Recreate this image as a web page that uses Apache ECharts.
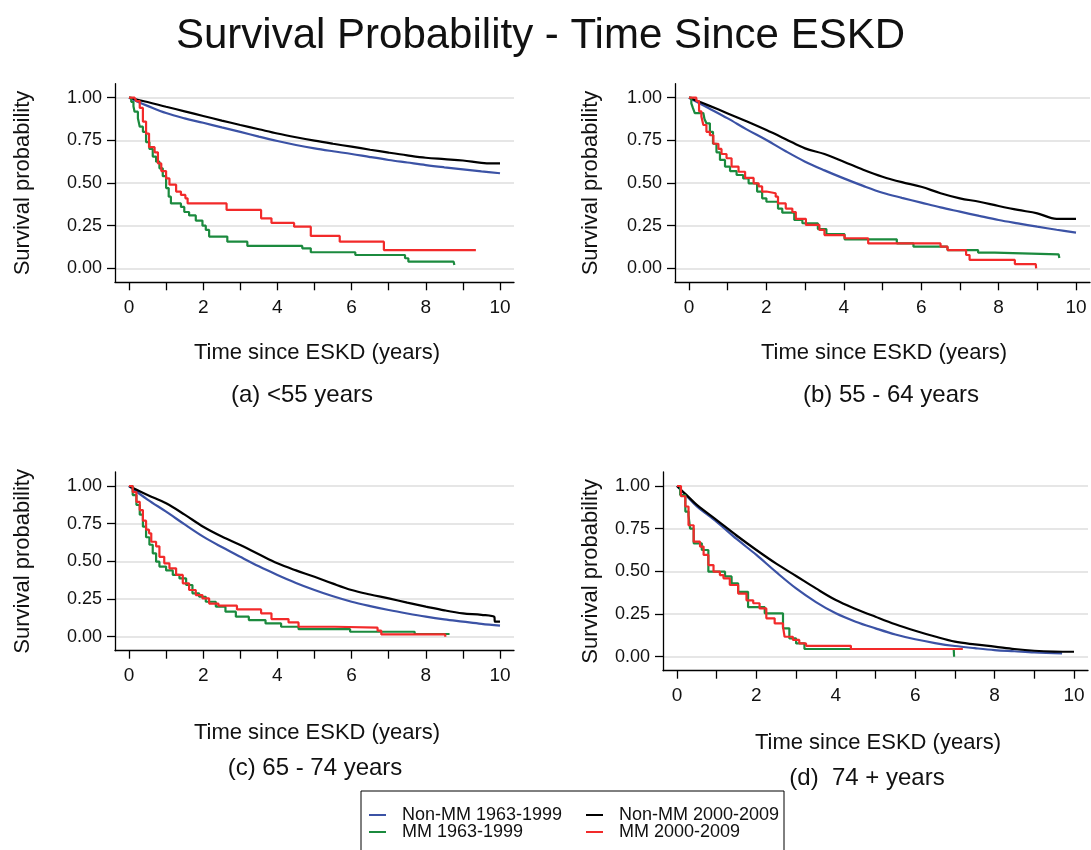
<!DOCTYPE html>
<html>
<head>
<meta charset="utf-8">
<script src="https://cdn.jsdelivr.net/npm/echarts@6/dist/echarts.min.js"></script>
<style>html,body{margin:0;padding:0;background:#fff;}#chart{width:1091px;height:850px;}</style>
</head>
<body>
<div id="chart"></div>
<script>
// ---------------- DATA ----------------
const chartTitle = 'Survival Probability - Time Since ESKD';
const seriesNames = ['Non-MM 1963-1999', 'Non-MM 2000-2009', 'MM 1963-1999', 'MM 2000-2009'];
const panelLabels = ['(a) <55 years', '(b) 55 - 64 years', '(c) 65 - 74 years', '(d)  74 + years'];
const xAxisTitle = 'Time since ESKD (years)';
const yAxisTitle = 'Survival probability';
const xTicks = [0, 1, 2, 3, 4, 5, 6, 7, 8, 9, 10];
const xTickLabels = [0, 2, 4, 6, 8, 10];
const yTicks = [0, 0.25, 0.5, 0.75, 1];

// Panel (a) <55 years
const a_nonMM_6399 = [[0,1],[0.25,0.975],[0.5,0.952],[1,0.91],[1.5,0.879],[2,0.853],[2.5,0.826],[3,0.80],[3.5,0.772],[4,0.746],[4.5,0.723],[5,0.703],[5.5,0.686],[6,0.67],[6.5,0.652],[7,0.635],[7.5,0.62],[8,0.605],[8.5,0.592],[9,0.58],[9.5,0.568],[10,0.557]];
const a_nonMM_0009 = [[0,1],[0.5,0.975],[1,0.947],[1.5,0.92],[2,0.893],[2.5,0.866],[3,0.84],[3.5,0.815],[4,0.79],[4.5,0.768],[5,0.748],[5.5,0.73],[6,0.713],[6.5,0.695],[7,0.678],[7.5,0.662],[8,0.648],[8.5,0.64],[9,0.632],[9.5,0.618],[9.8,0.615],[10,0.615]];
const a_MM_6399 = [[0,1],[0.06,0.976],[0.12,0.95],[0.15,0.918],[0.24,0.88],[0.29,0.83],[0.375,0.8],[0.46,0.74],[0.55,0.70],[0.64,0.655],[0.73,0.625],[0.82,0.586],[0.91,0.54],[1.0,0.47],[1.07,0.42],[1.13,0.38],[1.4,0.36],[1.49,0.33],[1.62,0.31],[1.8,0.28],[1.98,0.25],[2.07,0.225],[2.16,0.186],[2.65,0.156],[3.19,0.131],[4.67,0.117],[4.9,0.094],[6.1,0.078],[7.44,0.059],[7.53,0.039],[8.75,0.039],[8.77,0.02]];
const a_MM_0009 = [[0,1],[0.15,1],[0.2,0.98],[0.29,0.94],[0.375,0.86],[0.46,0.79],[0.54,0.71],[0.69,0.68],[0.78,0.615],[0.87,0.57],[1.0,0.527],[1.09,0.49],[1.27,0.45],[1.4,0.43],[1.52,0.41],[1.58,0.38],[2.63,0.342],[3.56,0.293],[3.84,0.266],[4.45,0.244],[4.9,0.19],[5.68,0.156],[6.87,0.107],[9.35,0.107]];

// Panel (b) 55 - 64 years
const b_nonMM_6399 = [[0,1],[0.5,0.94],[1,0.879],[1.5,0.813],[2,0.752],[2.5,0.686],[3,0.625],[3.5,0.574],[4,0.527],[4.5,0.483],[5,0.443],[5.5,0.413],[6,0.385],[6.5,0.357],[7,0.332],[7.5,0.307],[8,0.283],[8.5,0.263],[9,0.244],[9.5,0.226],[10,0.209]];
const b_nonMM_0009 = [[0,1],[0.5,0.955],[1,0.908],[1.5,0.86],[2,0.81],[2.5,0.757],[3,0.703],[3.5,0.67],[4,0.625],[4.5,0.578],[5,0.537],[5.5,0.505],[6,0.478],[6.5,0.44],[7,0.41],[7.5,0.39],[8,0.365],[8.5,0.342],[9,0.322],[9.5,0.29],[10,0.29]];
const b_MM_6399 = [[0,1],[0.06,0.967],[0.1,0.94],[0.15,0.91],[0.37,0.90],[0.4,0.875],[0.45,0.85],[0.54,0.80],[0.62,0.73],[0.71,0.68],[0.8,0.635],[0.93,0.596],[1.06,0.57],[1.23,0.547],[1.4,0.527],[1.54,0.498],[1.76,0.45],[1.89,0.41],[2.0,0.39],[2.3,0.35],[2.41,0.326],[2.72,0.283],[2.93,0.264],[3.33,0.23],[3.55,0.2],[4.02,0.17],[5.37,0.146],[5.8,0.127],[6.68,0.107],[7.47,0.092],[7.9,0.082],[9.55,0.082],[9.57,0.06]];
const b_MM_0009 = [[0,1],[0.19,0.98],[0.26,0.92],[0.32,0.89],[0.37,0.84],[0.45,0.80],[0.54,0.78],[0.63,0.73],[0.76,0.70],[0.84,0.67],[0.97,0.645],[1.1,0.596],[1.28,0.566],[1.45,0.53],[1.67,0.498],[1.8,0.48],[1.89,0.45],[2.0,0.44],[2.24,0.42],[2.3,0.38],[2.5,0.35],[2.67,0.33],[2.76,0.29],[3.02,0.254],[3.37,0.225],[3.5,0.195],[4.02,0.176],[4.63,0.146],[6.5,0.127],[6.68,0.107],[7.16,0.078],[7.25,0.049],[8.42,0.025],[8.96,0.025],[8.97,0.0]];

// Panel (c) 65 - 74 years
const c_nonMM_6399 = [[0,1],[0.5,0.91],[1,0.83],[1.5,0.745],[2,0.664],[2.5,0.595],[3,0.53],[3.5,0.467],[4,0.41],[4.5,0.357],[5,0.31],[5.5,0.268],[6,0.232],[6.5,0.203],[7,0.177],[7.5,0.154],[8,0.133],[8.5,0.115],[9,0.1],[9.5,0.085],[10,0.073]];
const c_nonMM_0009 = [[0,1],[0.5,0.94],[1,0.885],[1.5,0.81],[2,0.73],[2.5,0.665],[3,0.608],[3.5,0.547],[4,0.487],[4.5,0.44],[5,0.398],[5.5,0.352],[6,0.31],[6.5,0.28],[7,0.254],[7.5,0.226],[8,0.2],[8.5,0.175],[9,0.155],[9.5,0.145],[9.85,0.13],[9.86,0.1],[10,0.1]];
const c_MM_6399 = [[0,1],[0.1,0.94],[0.2,0.874],[0.29,0.81],[0.375,0.73],[0.46,0.66],[0.55,0.61],[0.64,0.553],[0.73,0.498],[0.82,0.465],[1.0,0.44],[1.18,0.41],[1.36,0.387],[1.54,0.343],[1.71,0.288],[1.89,0.265],[2.07,0.232],[2.34,0.2],[2.6,0.166],[2.88,0.133],[3.23,0.11],[3.68,0.088],[4.1,0.066],[4.57,0.05],[5.96,0.033],[7.7,0.018],[8.64,0.018]];
const c_MM_0009 = [[0,1],[0.1,0.96],[0.2,0.895],[0.29,0.84],[0.375,0.77],[0.46,0.71],[0.54,0.686],[0.6,0.63],[0.73,0.6],[0.82,0.53],[0.95,0.487],[1.09,0.454],[1.27,0.41],[1.45,0.354],[1.62,0.31],[1.8,0.276],[1.98,0.254],[2.16,0.22],[2.41,0.206],[2.91,0.181],[3.56,0.155],[3.84,0.117],[4.3,0.095],[4.57,0.066],[5.55,0.06],[6.7,0.04],[6.8,0.015],[8.52,0.015],[8.53,0.0]];

// Panel (d) 74 + years
const d_nonMM_6399 = [[0,1],[0.25,0.94],[0.5,0.88],[1,0.79],[1.5,0.69],[2,0.596],[2.5,0.495],[3,0.40],[3.5,0.32],[4,0.254],[4.5,0.205],[5,0.166],[5.5,0.13],[6,0.102],[6.5,0.08],[7,0.0625],[7.5,0.05],[8,0.039],[8.5,0.032],[9,0.025],[9.7,0.02]];
const d_nonMM_0009 = [[0,1],[0.25,0.945],[0.5,0.889],[1,0.80],[1.5,0.71],[2,0.625],[2.5,0.545],[3,0.473],[3.5,0.40],[4,0.332],[4.5,0.28],[5,0.234],[5.5,0.19],[6,0.152],[6.5,0.118],[7,0.088],[7.5,0.072],[8,0.059],[8.5,0.045],[9,0.035],[9.5,0.03],[10,0.029]];
const d_MM_6399 = [[0,1],[0.08,0.947],[0.21,0.85],[0.29,0.83],[0.33,0.75],[0.42,0.664],[0.625,0.625],[0.79,0.498],[1.21,0.47],[1.375,0.43],[1.54,0.38],[1.79,0.29],[2.21,0.254],[2.67,0.166],[2.83,0.107],[3.0,0.078],[3.21,0.045],[6.97,0.045],[6.98,0.0]];
const d_MM_0009 = [[0,1],[0.1,0.94],[0.21,0.88],[0.29,0.77],[0.42,0.674],[0.58,0.645],[0.67,0.596],[0.79,0.537],[0.92,0.498],[1.08,0.478],[1.17,0.459],[1.33,0.42],[1.54,0.37],[1.75,0.33],[1.92,0.313],[2.08,0.283],[2.25,0.225],[2.46,0.195],[2.67,0.176],[2.71,0.117],[2.92,0.098],[3.08,0.078],[3.25,0.064],[4.38,0.045],[7.2,0.045]];

const panelData = [
  [a_nonMM_6399, a_nonMM_0009, a_MM_6399, a_MM_0009],
  [b_nonMM_6399, b_nonMM_0009, b_MM_6399, b_MM_0009],
  [c_nonMM_6399, c_nonMM_0009, c_MM_6399, c_MM_0009],
  [d_nonMM_6399, d_nonMM_0009, d_MM_6399, d_MM_0009]
];

// ---------------- LAYOUT / STYLE ----------------
const FONT = "'Liberation Sans', Arial, Helvetica, sans-serif";
const seriesColors = ['#3b52a5', '#000000', '#1b8a3e', '#f22a2a'];
const seriesStep = [false, false, 'end', 'end'];
const seriesSmooth = [0.35, 0.35, false, false];
const PAD = 14; // px gap between the data range and the axis lines
// pixel positions of x=0, x=10, y=1, y=0 for each panel
const panelLayout = [
  {x0: 129, x10: 500, y1: 97.7, y0: 268.3, yTitleX: 23, xTitle: [317, 353], sub: [302, 395]},
  {x0: 689, x10: 1076, y1: 97.7, y0: 268.3, yTitleX: 591, xTitle: [884, 353], sub: [891, 395]},
  {x0: 129, x10: 500, y1: 486, y0: 636.7, yTitleX: 23, xTitle: [317, 733], sub: [315, 768]},
  {x0: 677, x10: 1074, y1: 486, y0: 656.7, yTitleX: 591, xTitle: [878, 743], sub: [867, 778]}
];

const grids = [], xAxes = [], yAxes = [], series = [], graphics = [];
panelLayout.forEach((p, i) => {
  const pxX = (p.x10 - p.x0) / 10;
  const pxY = (p.y0 - p.y1);
  grids.push({left: p.x0 - PAD, top: p.y1 - PAD, width: p.x10 - p.x0 + 2 * PAD, height: p.y0 - p.y1 + 2 * PAD, containLabel: false});
  xAxes.push({
    type: 'value', gridIndex: i, min: -PAD / pxX, max: 10 + PAD / pxX,
    axisLine: {show: true, onZero: false, lineStyle: {color: '#000', width: 1.3}},
    axisTick: {show: true, length: 8, customValues: xTicks, lineStyle: {color: '#000', width: 1.3}},
    axisLabel: {customValues: xTickLabels, formatter: v => String(Math.round(v)), margin: 16, fontSize: 19, color: '#111', fontFamily: FONT},
    splitLine: {show: false}
  });
  yAxes.push({
    type: 'value', gridIndex: i, min: -PAD / pxY, max: 1 + PAD / pxY,
    axisLine: {show: true, onZero: false, lineStyle: {color: '#000', width: 1.3}},
    axisTick: {show: true, length: 8, customValues: yTicks, lineStyle: {color: '#000', width: 1.3}},
    axisLabel: {customValues: yTicks, formatter: v => v.toFixed(2), margin: 13, fontSize: 18, color: '#111', fontFamily: FONT},
    splitLine: {show: false}
  });
  // horizontal grid lines (drawn underneath the curves)
  series.push({
    type: 'line', xAxisIndex: i, yAxisIndex: i, data: [[0, 1]], silent: true, z: 0,
    symbol: 'none', lineStyle: {opacity: 0},
    markLine: {silent: true, z: 0, symbol: 'none', label: {show: false}, animation: false,
      lineStyle: {color: '#e6e6e6', width: 2, type: 'solid'},
      data: yTicks.map(v => ({yAxis: v}))}
  });
  panelData[i].forEach((d, k) => {
    series.push({
      type: 'line', name: seriesNames[k], xAxisIndex: i, yAxisIndex: i, data: d,
      step: seriesStep[k], smooth: seriesSmooth[k],
      symbol: 'none', showSymbol: false, z: 3 + k,
      lineStyle: {width: 2.2, color: seriesColors[k]}, itemStyle: {color: seriesColors[k]}
    });
  });
  graphics.push({type: 'text', x: p.yTitleX, y: (p.y1 + p.y0) / 2, rotation: Math.PI / 2,
    style: {text: yAxisTitle, font: '22px ' + FONT, fill: '#111', align: 'center', verticalAlign: 'middle'}});
  graphics.push({type: 'text', x: p.xTitle[0], y: p.xTitle[1],
    style: {text: xAxisTitle, font: '22px ' + FONT, fill: '#111', align: 'center', verticalAlign: 'middle'}});
  graphics.push({type: 'text', x: p.sub[0], y: p.sub[1],
    style: {text: panelLabels[i], font: '24px ' + FONT, fill: '#111', align: 'center', verticalAlign: 'middle'}});
});

// legend box
graphics.push({type: 'rect', shape: {x: 361, y: 791, width: 423, height: 80}, style: {fill: 'none', stroke: '#000', lineWidth: 1}});

const legendPos = [[369, 806], [586, 806], [369, 823], [586, 823]];
const legends = seriesNames.map((n, k) => ({
  data: [n], left: legendPos[k][0], top: legendPos[k][1], padding: 0, icon: 'rect',
  itemWidth: 17, itemHeight: 2, selectedMode: false,
  textStyle: {fontSize: 18, lineHeight: 18, color: '#111', fontFamily: FONT, padding: [0, 0, 0, 11]}
}));

const chart = echarts.init(document.getElementById('chart'), null, {renderer: 'canvas'});
chart.setOption({
  animation: false,
  backgroundColor: '#fff',
  title: {text: chartTitle, left: 176, top: 15, padding: 0,
    textStyle: {fontSize: 42, fontWeight: 'normal', color: '#111', fontFamily: FONT}},
  legend: legends,
  grid: grids,
  xAxis: xAxes,
  yAxis: yAxes,
  series: series,
  graphic: graphics
});
</script>
</body>
</html>
